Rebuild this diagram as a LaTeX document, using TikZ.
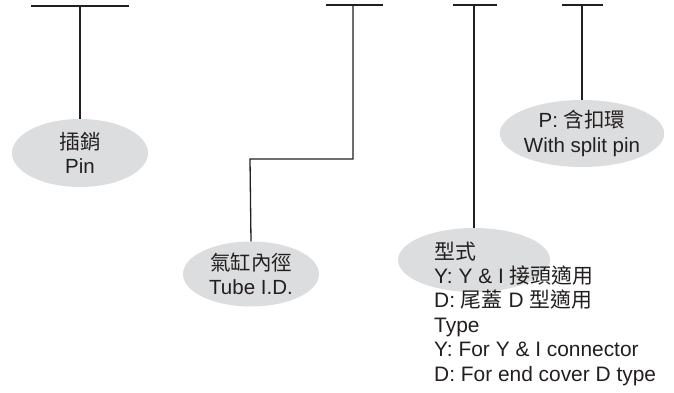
\documentclass[tikz,border=0pt]{standalone}
\usepackage{fontspec}
\setmainfont{Liberation Sans}
\newfontfamily\cjk{Noto Sans CJK TC}
\usetikzlibrary{shapes.geometric}
\definecolor{lineK}{HTML}{231F20}
\definecolor{bubbleG}{HTML}{DCDDDE}
\tikzset{
  bubble/.style={ellipse, fill=bubbleG, draw=none, inner sep=0pt, minimum width=136pt, minimum height=68pt, align=center, font=\fontsize{20.5}{24.5}\selectfont, text=lineK},
  lead/.style={draw=lineK, line width=1.3pt},
  plain/.style={inner sep=0pt, align=left, font=\fontsize{20.9}{24.4}\selectfont, text=lineK}
}
\begin{document}
\begin{tikzpicture}[x=1pt,y=-1pt]
\useasboundingbox (0,0) rectangle (674,393);
% top bars
\coordinate (a1) at (31,6); \coordinate (b1) at (129,6); \coordinate (t1) at (80,6);
\coordinate (a2) at (326,5); \coordinate (b2) at (383,5); \coordinate (t2) at (353,5);
\coordinate (a3) at (453,5); \coordinate (b3) at (497,5); \coordinate (t3) at (474,5);
\coordinate (a4) at (562,5); \coordinate (b4) at (603,5); \coordinate (t4) at (582,5);
\draw[lead] (a1) -- (b1);
\draw[lead] (a2) -- (b2);
\draw[lead] (a3) -- (b3);
\draw[lead] (a4) -- (b4);
% bubbles
\node[bubble] (e1) at (80,153) {{\cjk 插銷}\\Pin};
\node[bubble, minimum height=65pt] (e2) at (251,274) {{\cjk 氣缸內徑}\\Tube I.D.};
\node[bubble, minimum width=152pt, minimum height=64pt] (e3) at (474,260) {};
\node[bubble, minimum width=137pt, minimum height=67pt] (e4) at (582,133.5) {P: {\cjk 含扣環}\\With split pin};
\node[plain, anchor=north west] (txt3) at (434,241.5) {{\cjk 型式}\\Y: Y \& I {\cjk 接頭適用}\\D: {\cjk 尾蓋} D {\cjk 型適用}\\Type\\Y: For Y \& I connector\\D: For end cover D type};
% leaders
\coordinate (k2) at (250,159);
\draw[lead] (t1) -- (e1.north);
\draw[lead] (t2) |- (k2) -- (e2.north);
\draw[lead] (t3) -- (e3.north);
\draw[lead] (t4) -- (e4.north);
\end{tikzpicture}
\end{document}
